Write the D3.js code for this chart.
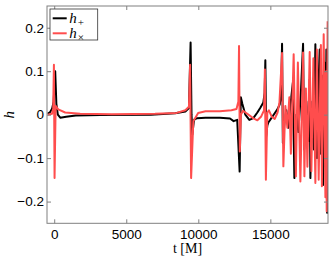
<!DOCTYPE html>
<html>
<head>
<meta charset="utf-8">
<script src="https://cdn.jsdelivr.net/npm/d3@7"></script>
<style>
  html, body { margin: 0; padding: 0; background: #fff; }
  svg { display: block; }
</style>
</head>
<body>
<div id="chart"></div>
<script>
const WIDTH  = 332;
const HEIGHT = 259;
const PLOT = { left: 47, right: 328, top: 6, bottom: 223.3 };

const COLORS = {
  plus:  '#000',
  cross: '#ff4d4d',
  frame: '#808080'
};

// time ticks [M] and strain ticks
const xTicks = [0, 5000, 10000, 15000];
const yTicks = [-0.2, -0.1, 0, 0.1, 0.2];

// h_+, [t, h]
const plusData = [
  [-450, 0.002], [-280, 0.006], [-140, 0.014], [-40, 0.03], [70, 0.100],
  [150, 0.025], [250, 0.0], [420, -0.007], [830, -0.005], [1500, -0.002],
  [3200, -0.001], [6700, 0.0], [8400, 0.003], [9100, 0.007], [9350, 0.015],
  [9465, 0.166], [9530, 0.0], [9583, -0.046], [9700, -0.012], [9900, -0.008],
  [10500, -0.007], [11500, -0.007], [12200, -0.009], [12450, -0.015], [12700, -0.012],
  [12868, -0.131], [12950, 0.04], [13055, 0.025], [13263, 0.0], [13541, -0.012],
  [13819, -0.008], [14097, 0.005], [14305, 0.016], [14513, 0.028], [14604, 0.05],
  [14652, 0.125], [14708, -0.05], [14791, -0.025], [14861, -0.018], [15069, -0.008],
  [15277, 0.002], [15486, 0.012], [15645, 0.023], [15743, 0.04], [15812, 0.163],
  [15868, -0.065], [15972, -0.02], [16111, 0.01], [16250, -0.03], [16388, 0.02],
  [16562, 0.074], [16666, -0.146], [16805, 0.0], [16944, -0.04], [17118, 0.05],
  [17270, 0.163], [17347, -0.08], [17500, 0.03], [17638, -0.06], [17729, 0.081],
  [17777, -0.146], [17916, 0.03], [18020, -0.08], [18124, 0.162], [18228, -0.1],
  [18333, 0.06], [18423, 0.15], [18506, -0.09], [18576, 0.09], [18659, -0.162],
  [18750, 0.12], [18840, -0.12], [18888, 0.15], [18937, -0.226], [18990, 0.1]
];

// h_x, [t, h]
const crossData = [
  [-450, 0.0], [-150, 0.002], [-70, 0.015], [-20, 0.115], [25, -0.146],
  [100, 0.02], [280, 0.012], [760, 0.005], [1800, 0.002], [4000, 0.001],
  [7000, 0.002], [8500, 0.004], [9100, 0.01], [9350, 0.018], [9430, 0.115],
  [9500, -0.146], [9653, -0.015], [9990, 0.004], [10500, 0.008], [11500, 0.008],
  [12300, 0.01], [12650, 0.013], [12780, 0.03], [12826, 0.158], [12880, -0.085],
  [12960, 0.0], [13100, 0.009], [13400, 0.002], [13800, -0.008], [14100, -0.013],
  [14350, -0.005], [14560, 0.01], [14620, 0.104], [14690, -0.15], [14790, 0.005],
  [14900, 0.01], [15100, -0.005], [15300, -0.01], [15500, 0.005], [15630, 0.028],
  [15812, 0.142], [15903, -0.119], [16041, 0.02], [16180, -0.03], [16319, 0.04],
  [16423, -0.09], [16527, 0.03], [16617, 0.139], [16770, -0.142], [16909, 0.12],
  [17083, -0.154], [17187, 0.0], [17270, 0.143], [17361, -0.142], [17465, 0.06],
  [17569, -0.12], [17729, 0.144], [17847, -0.13], [17986, 0.13], [18124, -0.157],
  [18228, 0.15], [18354, -0.15], [18506, 0.16], [18576, -0.165], [18701, 0.185],
  [18819, -0.19], [18870, 0.1], [18910, -0.222], [18975, 0.215]
];

const series = [
  { name: 'plus',  sub: '+', data: plusData,  color: COLORS.plus },
  { name: 'cross', sub: '\u00d7', data: crossData, color: COLORS.cross }
];

var xScale = d3.scaleLinear()
  .domain([-500, 19000])
  .range([PLOT.left, PLOT.right]);
var yScale = d3.scaleLinear()
  .domain([-0.25, 0.25])
  .range([PLOT.bottom, PLOT.top]);

var svg = d3.select('#chart').append('svg')
  .attr('width', WIDTH)
  .attr('height', HEIGHT)
  .style('background-color', '#fff');

svg.append('defs').append('clipPath')
  .attr('id', 'plotclip')
  .append('rect')
    .attr('x', PLOT.left)
    .attr('y', PLOT.top)
    .attr('width', PLOT.right - PLOT.left)
    .attr('height', PLOT.bottom - PLOT.top);

// Curves, red drawn over black
var line = d3.line()
  .x(d => xScale(d[0]))
  .y(d => yScale(d[1]));

svg.append('g')
    .attr('clip-path', 'url(#plotclip)')
  .selectAll('path')
    .data(series)
  .enter().append('path')
    .attr('d', d => line(d.data))
    .style('fill', 'none')
    .style('stroke', d => d.color)
    .style('stroke-width', 2)
    .style('stroke-linejoin', 'round');

// Axes, ticks pointing inward
var xFormat = d3.format('d');
var yFormat = d => d === 0 ? '0' : d3.format('.1f')(d);

function styleAxis(g) {
  g.select('.domain').remove();
  g.selectAll('.tick line').style('stroke', COLORS.frame);
  g.selectAll('.tick text')
    .style('fill', '#000')
    .attr('font-family', 'Liberation Sans, Arial, sans-serif')
    .attr('font-size', 13.5);
}

svg.append('g')
  .attr('transform', `translate(0,${PLOT.bottom})`)
  .call(d3.axisBottom(xScale).tickValues(xTicks).tickSize(-4).tickPadding(6).tickFormat(xFormat))
  .call(styleAxis);
svg.append('g')
  .attr('transform', `translate(0,${PLOT.top})`)
  .call(d3.axisTop(xScale).tickValues(xTicks).tickSize(-4).tickFormat(''))
  .call(styleAxis);
svg.append('g')
  .attr('transform', `translate(${PLOT.left},0)`)
  .call(d3.axisLeft(yScale).tickValues(yTicks).tickSize(-4).tickPadding(3).tickFormat(yFormat))
  .call(styleAxis);
svg.append('g')
  .attr('transform', `translate(${PLOT.right},0)`)
  .call(d3.axisRight(yScale).tickValues(yTicks).tickSize(-4).tickFormat(''))
  .call(styleAxis);

// Frame
svg.append('rect')
  .attr('x', PLOT.left)
  .attr('y', PLOT.top)
  .attr('width', PLOT.right - PLOT.left)
  .attr('height', PLOT.bottom - PLOT.top)
  .style('fill', 'none')
  .style('stroke', COLORS.frame)
  .style('stroke-width', 1);

// Axis labels
svg.append('text')
  .attr('x', (PLOT.left + PLOT.right) / 2)
  .attr('y', 253)
  .attr('text-anchor', 'middle')
  .attr('font-family', 'Liberation Serif, Times New Roman, serif')
  .attr('font-size', 14)
  .text('t [M]');

svg.append('text')
  .attr('transform', `translate(13.5,${yScale(0)}) rotate(-90)`)
  .attr('text-anchor', 'middle')
  .attr('font-family', 'Liberation Serif, Times New Roman, serif')
  .attr('font-style', 'italic')
  .attr('font-size', 15)
  .text('h');

// Legend
var legend = svg.append('g').attr('transform', 'translate(50,9)');
legend.append('rect')
  .attr('width', 47.7)
  .attr('height', 31)
  .style('fill', '#fff')
  .style('stroke', '#333')
  .style('stroke-width', 0.8);

var item = legend.selectAll('.item')
    .data(series)
  .enter().append('g')
    .attr('class', 'item')
    .attr('transform', (d, i) => `translate(0,${9.3 + i * 15})`);
item.append('line')
  .attr('x1', 2.7)
  .attr('x2', 16.7)
  .style('stroke', d => d.color)
  .style('stroke-width', 2);
var label = item.append('text')
  .attr('x', 19.3)
  .attr('y', 4.7)
  .attr('font-family', 'Liberation Serif, Times New Roman, serif')
  .attr('font-size', 15);
label.append('tspan')
  .attr('font-style', 'italic')
  .text('h');
label.append('tspan')
  .attr('dx', 1)
  .attr('dy', 3)
  .attr('font-size', 11)
  .text(d => d.sub);
</script>
</body>
</html>
